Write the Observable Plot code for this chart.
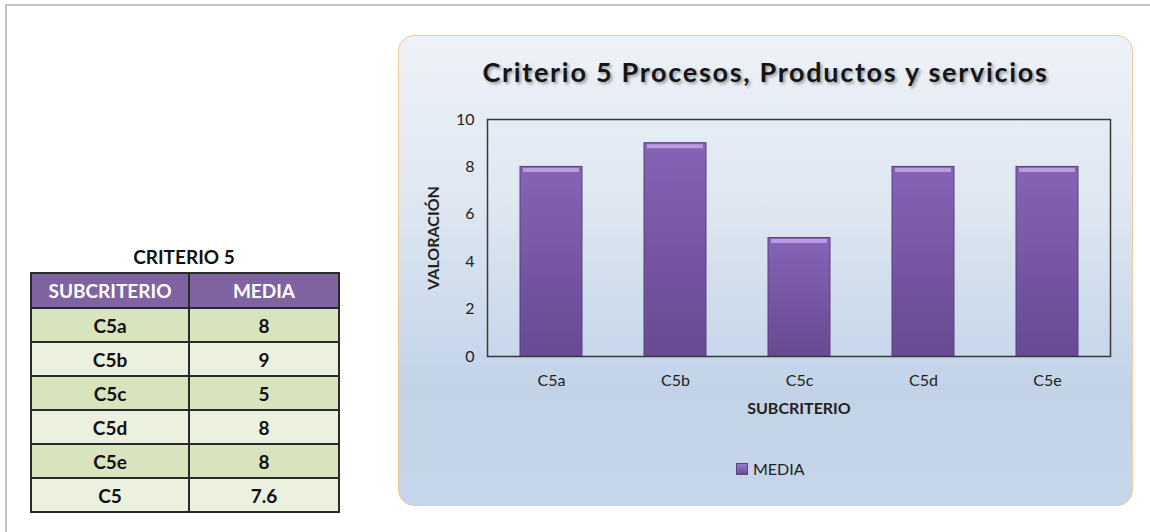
<!DOCTYPE html>
<html><head><meta charset="utf-8">
<script src="https://cdn.jsdelivr.net/npm/d3@7"></script>
<script src="https://cdn.jsdelivr.net/npm/@observablehq/plot@0.6"></script>
<style>
html,body{margin:0;padding:0;background:#fff;}
#page{position:relative;width:1150px;height:532px;overflow:hidden;font-family:Lato,"Open Sans",sans-serif;}
#frameTop{position:absolute;left:5px;top:4px;width:1150px;height:2px;background:#c2c2c2;}
#frameLeft{position:absolute;left:5px;top:4px;width:2px;height:540px;background:#c2c2c2;}
#tblTitle{position:absolute;left:30px;top:245px;width:308px;text-align:center;font-weight:bold;font-size:19px;color:#111;}
#tbl{position:absolute;left:30px;top:272px;border-collapse:collapse;font-weight:bold;font-size:19px;color:#111;}
#tbl td,#tbl th{border:2px solid #2a2a2a;text-align:center;padding:0;}
#tbl th{background:#8064a2;color:#fff;height:33px;font-size:19px;}
#tbl td{height:32px;}
#tbl tr.odd td{background:#d7e4bd;}
#tbl tr.even td{background:#ebf1de;}
#panel{position:absolute;left:398px;top:35px;width:733px;height:469px;border:1.5px solid #f5c89a;border-radius:16px;
  background:linear-gradient(to bottom,#eef2f8 0%,#dfe7f1 35%,#c2d3e8 75%,#c6d6ea 100%);overflow:hidden;}
#chart{position:absolute;left:0;top:0;}
#title{position:absolute;left:0;top:19px;width:733px;text-align:center;font-weight:bold;font-size:27px;letter-spacing:1.7px;color:#151515;
  text-shadow:2px 2px 3px rgba(0,0,0,0.35);}
#legend{position:absolute;left:337px;top:423px;font-size:16px;color:#222;display:flex;align-items:center;}
#legend .sw{width:10px;height:10px;background:linear-gradient(#9a78cc,#6a4b93);margin-right:5px;border:1px solid #5c427e;}
</style></head>
<body>
<div id="page">
  <div id="frameTop"></div><div id="frameLeft"></div>
  <div id="tblTitle"></div>
  <table id="tbl"></table>
  <div id="panel">
    <div id="chart"></div>
    <div id="title"></div>
    <div id="legend"><div class="sw"></div><span id="legText"></span></div>
  </div>
</div>
<script>
// ---- data ----
const subcriterios = ["C5a", "C5b", "C5c", "C5d", "C5e"];
const medias = [8, 9, 5, 8, 8];
const totalLabel = "C5";
const totalValue = "7.6";
const yTicks = [0, 2, 4, 6, 8, 10];
const tableTitle = "CRITERIO 5";
const colHeaders = ["SUBCRITERIO", "MEDIA"];
const chartTitle = "Criterio 5 Procesos, Productos y servicios";
const yLabel = "VALORACIÓN";
const xLabel = "SUBCRITERIO";
const seriesName = "MEDIA";

const data = subcriterios.map((s, i) => ({sub: s, media: medias[i]}));

// ---- table ----
document.getElementById("tblTitle").textContent = tableTitle;
const tbl = document.getElementById("tbl");
let html = `<tr><th style="width:156px">${colHeaders[0]}</th><th style="width:148px">${colHeaders[1]}</th></tr>`;
const rows = data.map(d => [d.sub, String(d.media)]).concat([[totalLabel, totalValue]]);
rows.forEach((r, i) => {
  html += `<tr class="${i % 2 === 0 ? "odd" : "even"}"><td>${r[0]}</td><td>${r[1]}</td></tr>`;
});
tbl.innerHTML = html;

document.getElementById("title").textContent = chartTitle;
document.getElementById("legText").textContent = seriesName;

// ---- chart ----
const W = 733, H = 469;
const plot = Plot.plot({
  width: W, height: H,
  marginLeft: 88, marginRight: 22, marginTop: 83, marginBottom: 149,
  style: {background: "transparent", fontFamily: "Lato, 'Open Sans', sans-serif", color: "#222"},
  x: {domain: subcriterios, paddingInner: 0.5, paddingOuter: 0.25},
  y: {domain: [0, 10]},
  marks: [
    Plot.barY(data, {x: "sub", y: "media", fill: "url(#barGrad)", stroke: "#5a3f7e", strokeWidth: 1}),
    Plot.tickY(data, {x: "sub", y: "media", stroke: "#b99be4", strokeWidth: 4, dy: 3, insetLeft: 3, insetRight: 3}),
    Plot.frame({stroke: "#3a3a3a", strokeWidth: 1.5}),
    Plot.axisY({ticks: yTicks, tickSize: 0, tickPadding: 13, fontSize: 16, label: null}),
    Plot.axisX({tickSize: 0, tickPadding: 18, fontSize: 16, label: null}),
    Plot.text([yLabel], {text: d => d, frameAnchor: "left", textAnchor: "middle", rotate: -90, dx: -54, fontWeight: "bold", fontSize: 16, fill: "#222"}),
    Plot.text([xLabel], {text: d => d, frameAnchor: "bottom", dy: 57, fontWeight: "bold", fontSize: 16, fill: "#222"})
  ]
});
const ns = "http://www.w3.org/2000/svg";
const defs = document.createElementNS(ns, "defs");
defs.innerHTML = `<linearGradient id="barGrad" x1="0" y1="0" x2="0" y2="1">
  <stop offset="0%" stop-color="#8663b6"/><stop offset="100%" stop-color="#684a92"/></linearGradient>`;
plot.insertBefore(defs, plot.firstChild);
document.getElementById("chart").appendChild(plot);
</script>
</body></html>
